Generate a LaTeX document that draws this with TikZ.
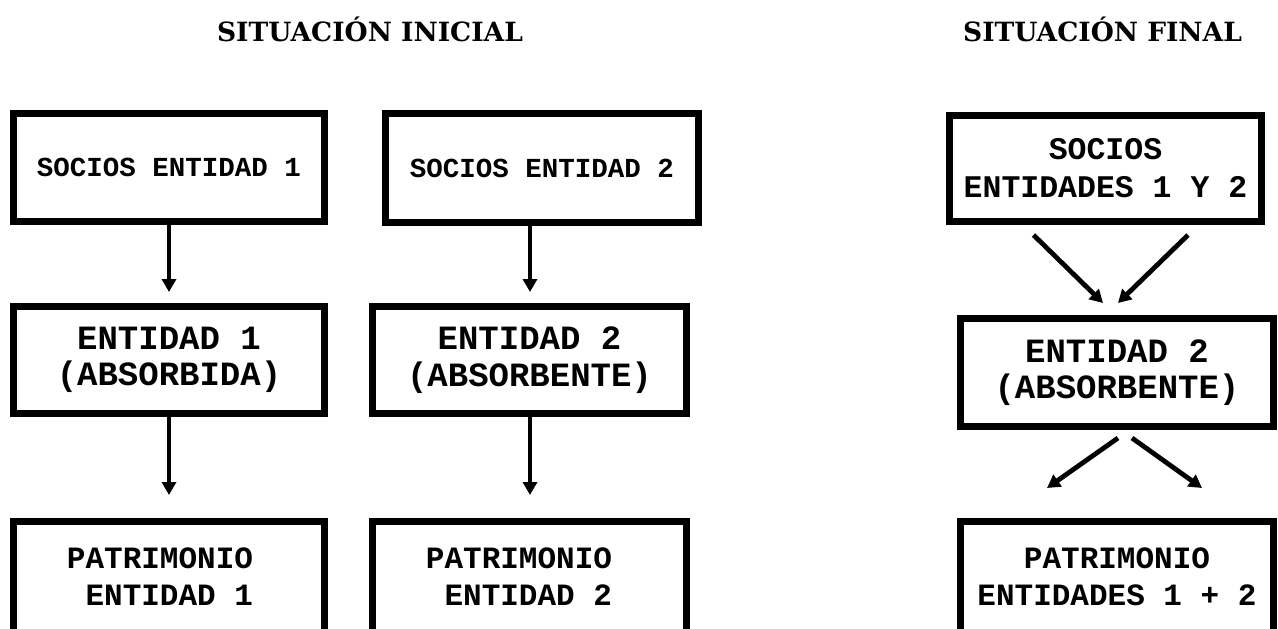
\documentclass[tikz,border=0pt]{standalone}
\usepackage{fontspec}
\setmainfont{DejaVu Serif}
\newfontfamily\boxfont{Liberation Mono}
\usetikzlibrary{arrows.meta,calc}
\begin{document}
\begin{tikzpicture}[x=1pt,y=-1pt,
  box/.style={draw, line width=7pt, rectangle, inner sep=0pt, align=center},
  small/.style={font=\boxfont\bfseries\fontsize{27.5}{33}\selectfont},
  mid/.style={font=\boxfont\bfseries\fontsize{34}{36.5}\selectfont},
  big/.style={font=\boxfont\bfseries\fontsize{31.5}{38}\selectfont},
  bot/.style={font=\boxfont\bfseries\fontsize{31}{37}\selectfont},
  arr/.style={line width=4.8pt, -{Triangle[width=14pt,length=13pt]}},
  ttl/.style={font=\bfseries\fontsize{26.5}{30}\selectfont}]
\clip (0,0) rectangle (1278,629);
\fill[white] (0,0) rectangle (1278,629);
% titles
\node[ttl] (t1) at (370,29) {SITUACIÓN INICIAL};
\node[ttl] (t2) at (1102.5,29) {SITUACIÓN FINAL};
% column 1
\node[box, small, minimum width=311pt, minimum height=108pt] (s1) at (169,167.5) {SOCIOS ENTIDAD 1};
\node[box, mid, minimum width=311pt, minimum height=107pt] (e1) at (169,360) {ENTIDAD 1\\(ABSORBIDA)};
\node[box, minimum width=311pt, minimum height=140pt] (p1) at (169,591.5) {};
\node[bot, align=left] (p1t) at (160,577) {PATRIMONIO\\\hphantom{P}ENTIDAD 1};
% column 2
\node[box, small, minimum width=313pt, minimum height=109pt] (s2) at (542,168) {SOCIOS ENTIDAD 2};
\node[box, mid, minimum width=314pt, minimum height=107pt] (e2) at (529.5,360) {ENTIDAD 2\\(ABSORBENTE)};
\node[box, minimum width=314pt, minimum height=140pt] (p2) at (529.5,591.5) {};
\node[bot, align=left] (p2t) at (519,577) {PATRIMONIO\\\hphantom{P}ENTIDAD 2};
% column 3
\node[box, big, minimum width=312pt, minimum height=106pt] (s3) at (1105.5,168.5) {SOCIOS\\ENTIDADES 1 Y 2};
\node[box, mid, minimum width=313pt, minimum height=108pt] (e3) at (1117,372.5) {ENTIDAD 2\\(ABSORBENTE)};
\node[box, minimum width=313pt, minimum height=140pt] (p3) at (1117,591.5) {};
\node[bot, align=center] (p3t) at (1117,577) {PATRIMONIO\\ENTIDADES 1 + 2};
% arrows column 1
\draw[arr, shorten >=11pt] (s1.south) -- (e1.north);
\draw[arr, shorten >=23pt] (e1.south) -- (p1.north);
% arrows column 2
\coordinate (c2) at (530,0);
\draw[arr, shorten >=11pt] (c2 |- s2.south) -- (c2 |- e2.north);
\draw[arr, shorten >=23pt] (c2 |- e2.south) -- (c2 |- p2.north);
% arrows column 3
\draw[arr] ([xshift=-72pt,yshift=-10pt]s3.south) -- ([xshift=-14pt,yshift=12pt]e3.north);
\draw[arr] ([xshift=82.5pt,yshift=-10pt]s3.south) -- ([xshift=1pt,yshift=12pt]e3.north);
\draw[arr] ([xshift=1pt,yshift=-8pt]e3.south) -- ([xshift=-70pt,yshift=30pt]p3.north);
\draw[arr] ([xshift=15pt,yshift=-8pt]e3.south) -- ([xshift=85pt,yshift=30pt]p3.north);
\end{tikzpicture}
\end{document}
